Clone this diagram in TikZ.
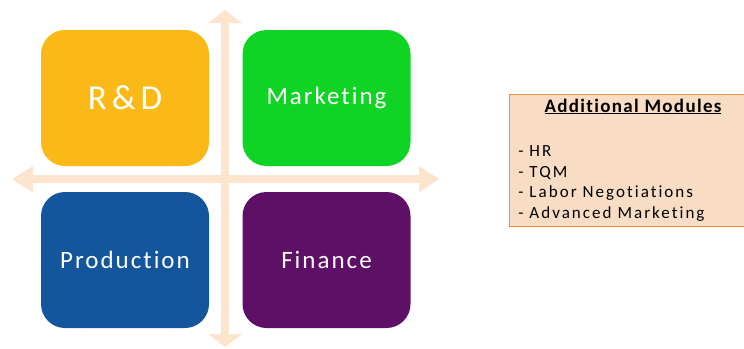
\documentclass[tikz,border=0pt]{standalone}
\usepackage{fontspec}
\setmainfont[Ligatures=NoCommon]{Carlito}
\definecolor{rdyellow}{HTML}{FBB917}
\definecolor{mkgreen}{HTML}{0FD424}
\definecolor{prblue}{HTML}{13569C}
\definecolor{fnpurple}{HTML}{5E1066}
\definecolor{axispeach}{HTML}{FDE5CD}
\definecolor{notefill}{HTML}{F8DCC4}
\definecolor{noteline}{HTML}{EE8B45}

\begin{document}
\begin{tikzpicture}[x=1pt, y=-1pt, thick,
	quad/.style={rounded corners=24pt, minimum width=168pt, minimum height=136pt, inner sep=0pt, text=white, font=\fontsize{25}{30}\selectfont\addfontfeature{LetterSpace=8}}]
		\useasboundingbox (0,0) rectangle (744,348);
		% axes
		\fill[axispeach] (225,10) -- (242,23) -- (228.8,23) -- (228.8,334) -- (242,334) -- (225,347) -- (208,334) -- (221.2,334) -- (221.2,23) -- (208,23) -- cycle;
		\fill[axispeach] (12,179) -- (33,166) -- (33,175.2) -- (419,175.2) -- (419,166) -- (439,179) -- (419,192.5) -- (419,182.8) -- (33,182.8) -- (33,192.5) -- cycle;
		% quadrants
		\node[quad, fill=rdyellow, font=\fontsize{35}{40}\selectfont\addfontfeature{LetterSpace=14}] (rd) at (125,98) {R\&D};
		\node[quad, fill=mkgreen] (mkt) at (326.5,98) {Marketing};
		\node[quad, fill=prblue] (prod) at (125,260) {Production};
		\node[quad, fill=fnpurple] (fin) at (326.5,260) {Finance};
		% additional modules
		\fill[notefill] (509,94) rectangle (744,227);
		\draw[noteline, line width=1pt] (744,94) -- (509.5,94) -- (509.5,226.5) -- (744,226.5);
		\node[anchor=base, inner sep=0pt, font=\bfseries\fontsize{19}{22}\selectfont\addfontfeature{LetterSpace=7}] (title) at (633,112) {\underline{Additional Modules}};
		\node[anchor=north west, inner sep=0pt, align=left, font=\fontsize{17}{20.5}\selectfont\addfontfeature{LetterSpace=12}] (list) at (518,145.5) {- HR\\- TQM\\- Labor Negotiations\\- Advanced Marketing};
	\end{tikzpicture}
\end{document}
